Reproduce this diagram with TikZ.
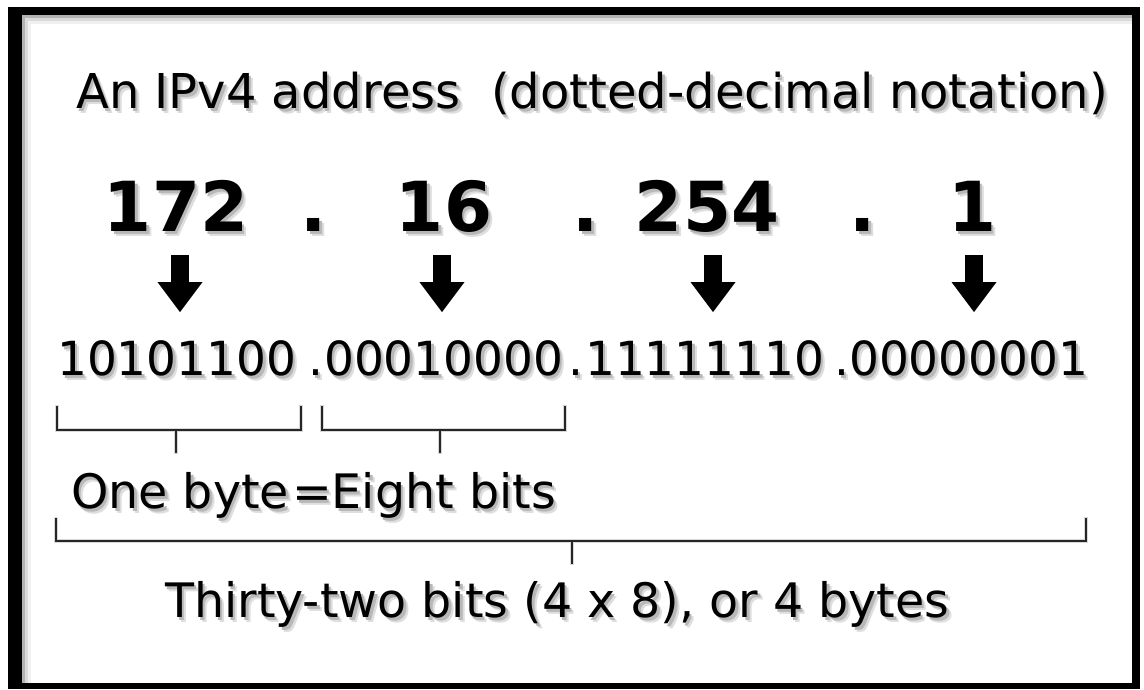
\documentclass[tikz,border=0pt]{standalone}
\usepackage{fontspec}
\setmainfont{DejaVu Sans}
\usetikzlibrary{arrows.meta}
\newcommand\shd[1]{\makebox[0pt][l]{\color{black!13}\hspace{4.5pt}\raisebox{-5pt}{#1}}\makebox[0pt][l]{\color{black!28}\hspace{2.5pt}\raisebox{-3pt}{#1}}#1}
\tikzset{
  txt/.style={inner sep=0pt, anchor=base west, font=\fontsize{47.5}{52}\selectfont},
  bignum/.style={inner sep=0pt, anchor=base, font=\bfseries\fontsize{69}{76}\selectfont},
  bin/.style={inner sep=0pt, anchor=base west, font=\fontsize{47}{52}\selectfont},
  brk/.style={line width=2.2pt, black!85, line cap=rect},
  brkshadow/.style={line width=3.5pt, black!15, line cap=rect, shift={(2.5,3.5)}},
  bigarrow/.style={line width=18pt, -{Triangle[width=45pt,length=30pt,line width=0pt]}},
  arrowshadow/.style={black!20, line width=18pt, -{Triangle[width=45pt,length=30pt,line width=0pt]}, shift={(3,4)}}
}
\begin{document}
\begin{tikzpicture}[x=1pt,y=-1pt]
\useasboundingbox (0,0) rectangle (1144,689);
\fill[white] (0,0) rectangle (1144,689);
% frame
\fill[black] (8,7) rectangle (1140,689);
\fill[white] (22,15) rectangle (1132,683);
\fill[black!30] (22,15) rectangle (1132,18);
\fill[black!15] (22,18) rectangle (1132,21);
\fill[black!6] (22,21) rectangle (1132,24);
\fill[black!30] (22,15) rectangle (25,683);
\fill[black!15] (25,18) rectangle (28,683);
\fill[black!6] (28,21) rectangle (31,683);

% title
\node[txt, font=\fontsize{48}{52}\selectfont] (title) at (76,108) {\shd{An IPv4 address\ \ (dotted-decimal notation)}};

% dotted decimal
\node[bignum] (n1) at (176,231) {\shd{172}};
\node[bignum] (d1) at (314,231) {\shd{.}};
\node[bignum] (n2) at (444,231) {\shd{16}};
\node[bignum] (d2) at (586,231) {\shd{.}};
\node[bignum] (n3) at (707,231) {\shd{254}};
\node[bignum] (d3) at (863,231) {\shd{.}};
\node[bignum] (n4) at (972,231) {\shd{1}};

% binary
\node[bin] (b1) at (57,375) {\shd{10101100}};
\node[bin] (p1) at (308,375) {\shd{.}};
\node[bin] (b2) at (324,375) {\shd{00010000}};
\node[bin] (p2) at (568,375) {\shd{.}};
\node[bin] (b3) at (585,375) {\shd{11111110}};
\node[bin] (p3) at (834,375) {\shd{.}};
\node[bin] (b4) at (849,375) {\shd{00000001}};

% arrows
\foreach \i/\x in {1/180,2/442,3/713,4/974}{
  \coordinate (a\i s) at (\x,255);
  \coordinate (a\i e) at (\x,312);
  \draw[arrowshadow] (a\i s) -- (a\i e);
  \draw[bigarrow] (a\i s) -- (a\i e);
}

% byte brackets
\foreach \i/\l/\m/\r in {1/57/176/301,2/322/440/565}{
  \coordinate (k\i a) at (\l,407);
  \coordinate (k\i b) at (\r,407);
  \coordinate (k\i m) at (\m,430);
  \coordinate (k\i t) at (\m,452);
  \draw[brkshadow] (k\i a) |- (k\i b |- k\i m) -- (k\i b);
  \draw[brkshadow] (k\i m) -- (k\i t);
  \draw[brk] (k\i a) |- (k\i b |- k\i m) -- (k\i b);
  \draw[brk] (k\i m) -- (k\i t);
}
\node[txt] (byte) at (71,508) {\shd{One byte\hspace{3pt}=Eight bits}};

% big bracket
\coordinate (ga) at (56,519);
\coordinate (gb) at (1086,519);
\coordinate (gm) at (572,541);
\coordinate (gt) at (572,563);
\draw[brkshadow] (ga) |- (gb |- gm) -- (gb);
\draw[brkshadow] (gm) -- (gt);
\draw[brk] (ga) |- (gb |- gm) -- (gb);
\draw[brk] (gm) -- (gt);
\node[txt] (total) at (165,617) {\shd{Thirty-two bits (4 x 8), or 4 bytes}};
\end{tikzpicture}
\end{document}
